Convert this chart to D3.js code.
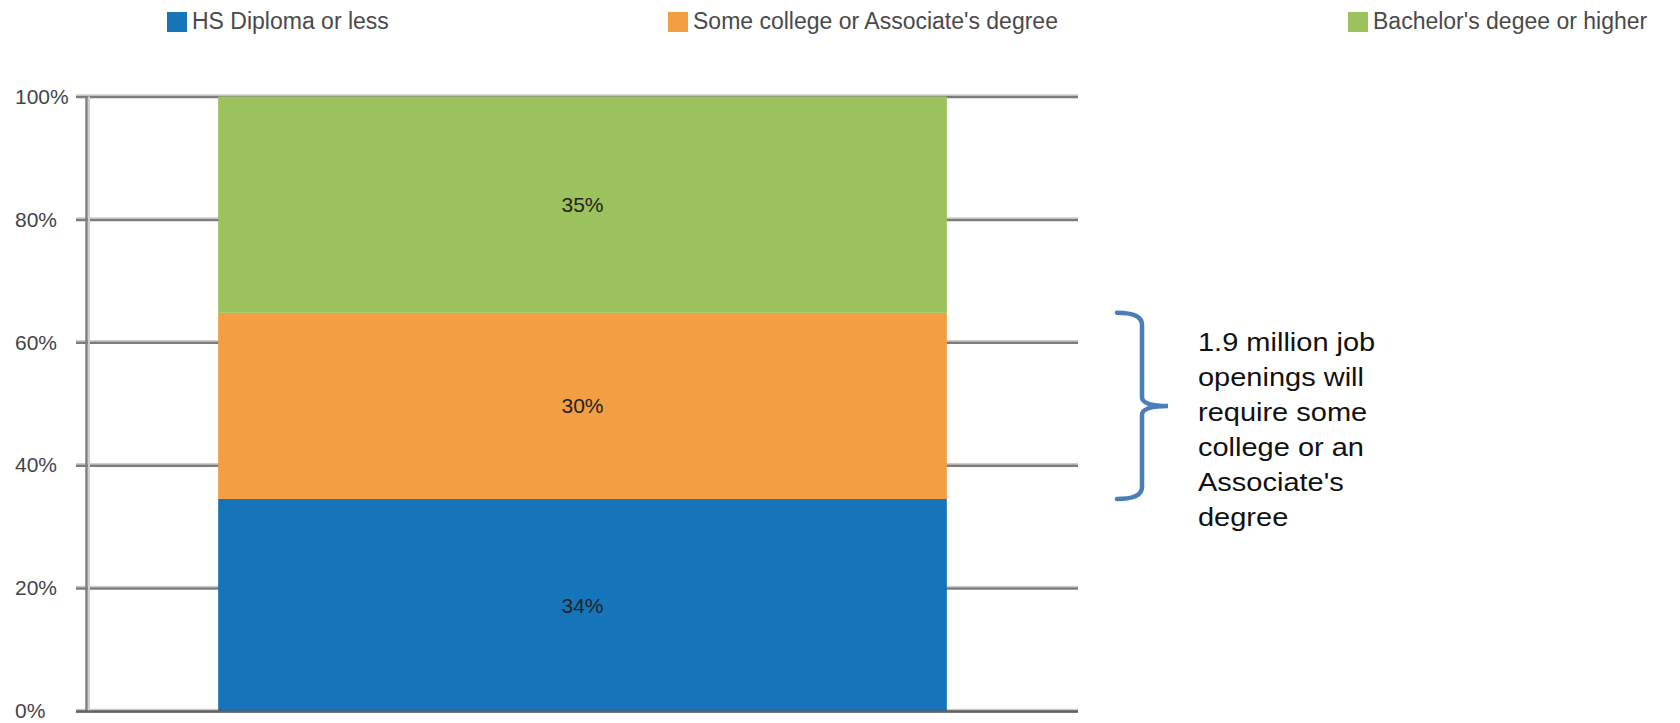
<!DOCTYPE html>
<html>
<head>
<meta charset="utf-8">
<script src="https://d3js.org/d3.v7.min.js"></script>
<style>
  body { margin: 0; background: #fff; }
  svg { display: block; }
  .legend text { font: 23px "Liberation Sans", Arial, sans-serif; fill: #4a4a4a; }
  .ytick text { font: 21px "Liberation Sans", Arial, sans-serif; fill: #444; }
  .vlabel { font: 21px "Liberation Sans", Arial, sans-serif; fill: #222; text-anchor: middle; }
  .note text { font: 25px "Liberation Sans", Arial, sans-serif; fill: #111; }
</style>
<title>Job openings by education</title>
</head>
<body>
<svg id="chart" width="1680" height="723"></svg>
<script>
// data
var categories = ["Job openings"];
var seriesNames = ["HS Diploma or less", "Some college or Associate's degree", "Bachelor's degee or higher"];
var seriesValues = [34.5, 30.3, 35.2];
var valueLabels = ["34%", "30%", "35%"];
var yTicks = [0, 20, 40, 60, 80, 100];
var noteLines = ["1.9 million job", "openings will", "require some", "college or an", "Associate's", "degree"];

var colors = ["#1675ba", "#f29e42", "#9bc25c"];

var svg = d3.select("#chart");

var x = d3.scaleBand().domain(categories).range([87, 1078]).paddingInner(0).paddingOuter(0.18);
var y = d3.scaleLinear().domain([0, 100]).range([711, 96.5]);

// one row table for the stack
var row = {cat: categories[0]};
seriesNames.forEach(function(s, i){ row[s] = seriesValues[i]; });
var stacked = d3.stack().keys(seriesNames)([row]);

// gridlines
var grid = svg.append("g");
grid.selectAll("line.hi").data(yTicks).enter().append("line")
  .attr("x1", 76).attr("x2", 1078)
  .attr("y1", function(d){ return y(d) - 1.5; }).attr("y2", function(d){ return y(d) - 1.5; })
  .attr("stroke", "#cdcdcd").attr("stroke-width", 1.5);
grid.selectAll("line.main").data(yTicks).enter().append("line")
  .attr("x1", 76).attr("x2", 1078)
  .attr("y1", function(d){ return y(d) + 0.5; }).attr("y2", function(d){ return y(d) + 0.5; })
  .attr("stroke", "#7c7c7c").attr("stroke-width", 2.5);

// y axis line
svg.append("line").attr("x1", 89).attr("x2", 89).attr("y1", y(100)).attr("y2", y(0))
  .attr("stroke", "#d0d0d0").attr("stroke-width", 2);
svg.append("line").attr("x1", 86.5).attr("x2", 86.5).attr("y1", y(100)).attr("y2", y(0))
  .attr("stroke", "#808080").attr("stroke-width", 2.5);

// tick labels (left aligned, like the original)
var yAxis = d3.axisLeft(y).tickValues(yTicks).tickFormat(function(d){ return d + "%"; }).tickSize(0);
var ya = svg.append("g").attr("class", "ytick").attr("transform", "translate(15,0)").call(yAxis);
ya.select(".domain").remove();
ya.selectAll("text").attr("text-anchor", "start").attr("x", 0).attr("dy", "0.32em");

// stacked bar
var layers = svg.selectAll("g.layer").data(stacked).enter().append("g")
  .attr("class", "layer").attr("fill", function(d, i){ return colors[i]; });
layers.selectAll("rect").data(function(d){ return d; }).enter().append("rect")
  .attr("x", function(d){ return x(d.data.cat); })
  .attr("width", x.bandwidth())
  .attr("y", function(d){ return y(d[1]); })
  .attr("height", function(d){ return y(d[0]) - y(d[1]); });

// baseline over the bar
svg.append("line").attr("x1", 76).attr("x2", 1078).attr("y1", y(0) + 0.5).attr("y2", y(0) + 0.5)
  .attr("stroke", "#5c5c5c").attr("stroke-width", 2.5).attr("opacity", 0.75);

// value labels
svg.selectAll("text.vlabel").data(stacked).enter().append("text")
  .attr("class", "vlabel")
  .attr("x", function(d){ return x(d[0].data.cat) + x.bandwidth() / 2; })
  .attr("y", function(d){ return (y(d[0][0]) + y(d[0][1])) / 2; })
  .attr("dy", "0.36em")
  .text(function(d, i){ return valueLabels[i]; });

// legend
var legendX = [167, 668, 1348];
var lg = svg.append("g").attr("class", "legend");
var item = lg.selectAll("g").data(seriesNames).enter().append("g")
  .attr("transform", function(d, i){ return "translate(" + legendX[i] + ",12)"; });
item.append("rect").attr("width", 20).attr("height", 20).attr("fill", function(d, i){ return colors[i]; });
item.append("text").attr("x", 25).attr("y", 17).text(function(d){ return d; });

// brace around the middle segment
var mid = stacked[1][0];
var yt = y(mid[1]), yb = y(mid[0]), ym = (yt + yb) / 2;
var bx0 = 1117, bx1 = 1142, bx2 = 1168;
var p = d3.path();
p.moveTo(bx0, yt);
p.quadraticCurveTo(bx1, yt, bx1, yt + 12);
p.lineTo(bx1, ym - 9);
p.quadraticCurveTo(bx1, ym, bx2, ym);
p.quadraticCurveTo(bx1, ym, bx1, ym + 9);
p.lineTo(bx1, yb - 12);
p.quadraticCurveTo(bx1, yb, bx0, yb);
svg.append("path").attr("d", p.toString()).attr("fill", "none")
  .attr("stroke", "#4a7ebb").attr("stroke-width", 4.5).attr("stroke-linecap", "round");

// note text
var note = svg.append("g").attr("class", "note").attr("transform", "translate(1198,0) scale(1.16,1)");
note.selectAll("text").data(noteLines).enter().append("text")
  .attr("x", 0).attr("y", function(d, i){ return 351 + i * 35; })
  .text(function(d){ return d; });
</script>
</body>
</html>
